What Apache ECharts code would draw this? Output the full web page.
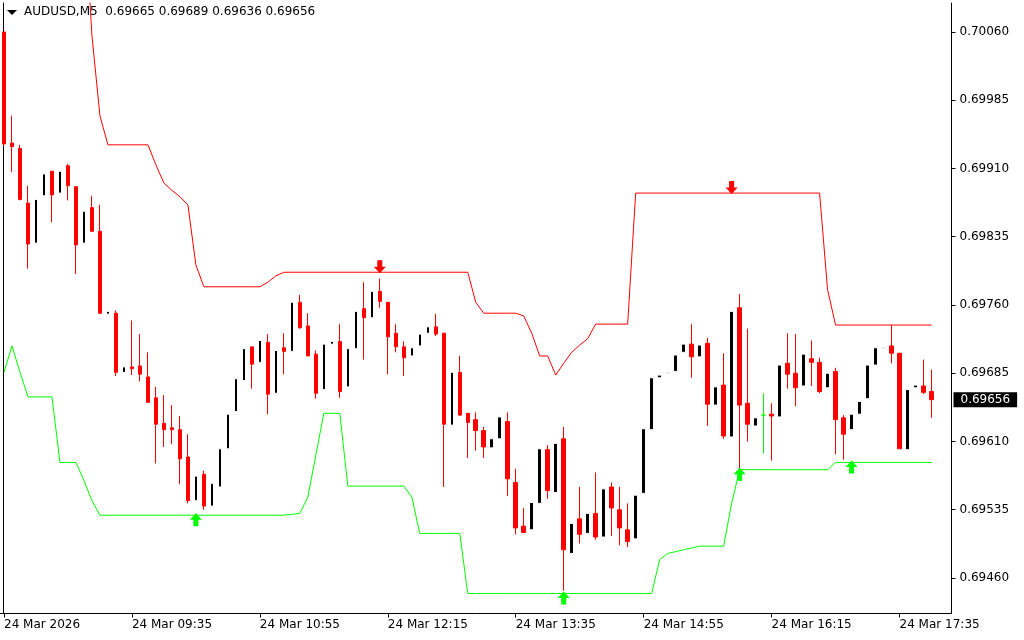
<!DOCTYPE html>
<html><head><meta charset="utf-8">
<script src="https://cdn.jsdelivr.net/npm/echarts@6/dist/echarts.min.js"></script>
<style>html,body{margin:0;padding:0;background:#fff}#c{width:1024px;height:640px}</style>
</head><body><div id="c"></div>
<script>
// ---- categories: 5-minute bars starting 24 Mar 2026 08:15 (119 slots, last 2 empty = chart shift)
const categories = [];
for (let i = 0; i < 119; i++) {
  const m = 8 * 60 + 15 + 5 * i;
  categories.push(String(Math.floor(m / 60)).padStart(2, '0') + ':' + String(m % 60).padStart(2, '0'));
}
const xTickIndex = [0, 16, 32, 48, 64, 80, 96, 112];
const xTickText = ['24 Mar 2026', '24 Mar 09:35', '24 Mar 10:55', '24 Mar 12:15', '24 Mar 13:35', '24 Mar 14:55', '24 Mar 16:15', '24 Mar 17:35'];
const yTickValues = [0.69460, 0.69535, 0.69610, 0.69685, 0.69760, 0.69835, 0.69910, 0.69985, 0.70060];

// ---- OHLC
const candleOpen = [
0.70060,0.69938,0.69932,0.69872,0.69828,0.69880,0.69907,0.69883,0.69913,0.69890,
0.69828,0.69867,0.69841,0.69750,0.69751,0.69686,0.69692,0.69693,0.69681,0.69658,
0.69630,0.69625,0.69623,0.69593,0.69545,0.69574,0.69539,0.69560,0.69602,0.69643,
0.69677,0.69714,0.69697,0.69719,0.69663,0.69713,0.69709,0.69763,0.69737,0.69706,
0.69667,0.69717,0.69720,0.69670,0.69712,0.69756,0.69746,0.69775,0.69763,0.69729,
0.69714,0.69704,0.69715,0.69729,0.69736,0.69729,0.69628,0.69686,0.69641,0.69634,
0.69622,0.69603,0.69613,0.69632,0.69565,0.69517,0.69513,0.69542,0.69601,0.69554,
0.69613,0.69487,0.69525,0.69509,0.69531,0.69505,0.69560,0.69535,0.69513,0.69503,
0.69553,0.69623,0.69680,0.69685,0.69687,0.69708,0.69717,0.69703,0.69718,0.69650,
0.69672,0.69615,0.69757,0.69652,0.69627,0.69639,0.69640,0.69637,0.69696,0.69685,
0.69671,0.69701,0.69697,0.69669,0.69687,0.69636,0.69623,0.69640,0.69657,0.69694,
0.69712,0.69715,0.69707,0.69601,0.69669,0.69671,0.69665];
const candleHigh = [
0.70060,0.69968,0.69936,0.69891,0.69876,0.69904,0.69907,0.69907,0.69915,0.69890,
0.69863,0.69880,0.69870,0.69753,0.69754,0.69692,0.69743,0.69728,0.69708,0.69670,
0.69661,0.69650,0.69638,0.69618,0.69572,0.69578,0.69564,0.69602,0.69640,0.69679,
0.69712,0.69714,0.69721,0.69728,0.69710,0.69729,0.69763,0.69771,0.69751,0.69710,
0.69717,0.69720,0.69739,0.69712,0.69753,0.69785,0.69775,0.69789,0.69763,0.69739,
0.69720,0.69713,0.69728,0.69736,0.69750,0.69729,0.69686,0.69704,0.69641,0.69642,
0.69626,0.69613,0.69637,0.69642,0.69580,0.69537,0.69543,0.69602,0.69606,0.69608,
0.69626,0.69520,0.69560,0.69531,0.69576,0.69558,0.69565,0.69560,0.69542,0.69551,
0.69624,0.69680,0.69683,0.69686,0.69705,0.69717,0.69739,0.69716,0.69724,0.69670,
0.69707,0.69753,0.69772,0.69734,0.69636,0.69663,0.69652,0.69694,0.69729,0.69728,
0.69706,0.69721,0.69702,0.69685,0.69691,0.69639,0.69640,0.69654,0.69694,0.69713,
0.69713,0.69738,0.69707,0.69667,0.69672,0.69700,0.69689];
const candleLow = [
0.69935,0.69906,0.69875,0.69800,0.69828,0.69880,0.69851,0.69883,0.69875,0.69794,
0.69828,0.69841,0.69750,0.69750,0.69682,0.69686,0.69683,0.69676,0.69653,0.69586,
0.69604,0.69607,0.69563,0.69542,0.69545,0.69535,0.69539,0.69560,0.69602,0.69643,
0.69677,0.69668,0.69697,0.69640,0.69663,0.69684,0.69709,0.69734,0.69704,0.69657,
0.69667,0.69717,0.69658,0.69670,0.69712,0.69700,0.69746,0.69757,0.69684,0.69708,
0.69682,0.69704,0.69715,0.69729,0.69726,0.69560,0.69628,0.69638,0.69592,0.69600,
0.69592,0.69603,0.69613,0.69550,0.69508,0.69510,0.69513,0.69542,0.69547,0.69554,
0.69446,0.69487,0.69498,0.69509,0.69502,0.69505,0.69506,0.69496,0.69494,0.69503,
0.69553,0.69623,0.69680,0.69685,0.69687,0.69708,0.69680,0.69703,0.69627,0.69650,
0.69613,0.69615,0.69579,0.69610,0.69627,0.69597,0.69589,0.69637,0.69668,0.69649,
0.69671,0.69671,0.69663,0.69669,0.69596,0.69590,0.69623,0.69640,0.69657,0.69694,
0.69712,0.69696,0.69602,0.69601,0.69669,0.69662,0.69636];
const candleClose = [
0.69937,0.69934,0.69876,0.69827,0.69876,0.69904,0.69881,0.69907,0.69891,0.69826,
0.69863,0.69841,0.69751,0.69753,0.69686,0.69692,0.69690,0.69684,0.69653,0.69629,
0.69623,0.69623,0.69591,0.69545,0.69572,0.69539,0.69564,0.69602,0.69640,0.69679,
0.69712,0.69695,0.69721,0.69662,0.69710,0.69709,0.69763,0.69735,0.69704,0.69663,
0.69717,0.69720,0.69665,0.69712,0.69753,0.69746,0.69775,0.69764,0.69725,0.69714,
0.69702,0.69713,0.69728,0.69736,0.69728,0.69629,0.69686,0.69639,0.69631,0.69622,
0.69604,0.69613,0.69637,0.69569,0.69515,0.69510,0.69543,0.69602,0.69556,0.69608,
0.69491,0.69520,0.69508,0.69531,0.69505,0.69558,0.69537,0.69515,0.69500,0.69551,
0.69624,0.69680,0.69683,0.69686,0.69705,0.69717,0.69703,0.69716,0.69651,0.69670,
0.69616,0.69753,0.69650,0.69629,0.69636,0.69639,0.69638,0.69694,0.69684,0.69669,
0.69706,0.69697,0.69665,0.69685,0.69634,0.69618,0.69640,0.69654,0.69694,0.69713,
0.69713,0.69707,0.69602,0.69667,0.69672,0.69664,0.69656];

// ---- indicator lines
const upperLine = [
0.70205,0.70205,0.70205,0.70205,0.70205,0.70205,0.70205,0.70205,0.70205,0.70205,
0.70205,0.70056,0.69968,0.69936,0.69936,0.69936,0.69936,0.69936,0.69936,0.69914,
0.69894,0.69886,0.69879,0.69870,0.69804,0.69780,0.69780,0.69780,0.69780,0.69780,
0.69780,0.69780,0.69780,0.69785,0.69792,0.69796,0.69796,0.69796,0.69796,0.69796,
0.69796,0.69796,0.69796,0.69796,0.69796,0.69796,0.69796,0.69796,0.69796,0.69796,
0.69796,0.69796,0.69796,0.69796,0.69796,0.69796,0.69796,0.69796,0.69796,0.69763,
0.69751,0.69751,0.69751,0.69751,0.69751,0.69748,0.69729,0.69704,0.69704,0.69683,
0.69696,0.69708,0.69716,0.69723,0.69739,0.69739,0.69739,0.69739,0.69739,0.69883,
0.69883,0.69883,0.69883,0.69883,0.69883,0.69883,0.69883,0.69883,0.69883,0.69883,
0.69883,0.69883,0.69883,0.69883,0.69883,0.69883,0.69883,0.69883,0.69883,0.69883,
0.69883,0.69883,0.69883,0.69777,0.69738,0.69738,0.69738,0.69738,0.69738,0.69738,
0.69738,0.69738,0.69738,0.69738,0.69738,0.69738,0.69738];
const lowerLine = [
0.69686,0.69715,0.69686,0.69659,0.69659,0.69659,0.69659,0.69587,0.69587,0.69587,
0.69567,0.69545,0.69529,0.69529,0.69529,0.69529,0.69529,0.69529,0.69529,0.69529,
0.69529,0.69529,0.69529,0.69529,0.69529,0.69529,0.69529,0.69529,0.69529,0.69529,
0.69529,0.69529,0.69529,0.69529,0.69529,0.69529,0.69530,0.69531,0.69549,0.69595,
0.69641,0.69641,0.69641,0.69561,0.69561,0.69561,0.69561,0.69561,0.69561,0.69561,
0.69561,0.69549,0.69509,0.69509,0.69509,0.69509,0.69509,0.69509,0.69443,0.69443,
0.69443,0.69443,0.69443,0.69443,0.69443,0.69443,0.69443,0.69443,0.69443,0.69443,
0.69443,0.69443,0.69443,0.69443,0.69443,0.69443,0.69443,0.69443,0.69443,0.69443,
0.69443,0.69443,0.69480,0.69487,0.69489,0.69491,0.69493,0.69495,0.69495,0.69495,
0.69495,0.69542,0.69579,0.69579,0.69579,0.69579,0.69579,0.69579,0.69579,0.69579,
0.69579,0.69579,0.69579,0.69579,0.69587,0.69587,0.69587,0.69587,0.69587,0.69587,
0.69587,0.69587,0.69587,0.69587,0.69587,0.69587,0.69587];

// ---- signal arrows
const upArrowIndex = [24, 70, 92, 106];
const upArrowPrice = [0.69529, 0.69443, 0.69579, 0.69587];
const downArrowIndex = [47, 91];
const downArrowPrice = [0.69796, 0.69883];

const FONT = 'DejaVu Sans';
const Y_MIN = 0.69420989, Y_MAX = 0.70091868;
const last = candleOpen.length - 1;
const lastSlot = categories.length - 1;
const header = 'AUDUSD,M5  ' + [candleOpen[last], candleHigh[last], candleLow[last], candleClose[last]].map(v => v.toFixed(5)).join(' ');
const tickMap = {};
xTickIndex.forEach((k, i) => tickMap[k] = xTickText[i]);
const isTick = (idx) => tickMap[idx] !== undefined;

const candleData = candleOpen.map((o, i) => [o, candleClose[i], candleLow[i], candleHigh[i]]);
const upArrowPath = 'path://M6,0 L12,6 L8.5,6 L8.5,12 L3.5,12 L3.5,6 L0,6 Z';
const downArrowPath = 'path://M3.5,0 L8.5,0 L8.5,6 L12,6 L6,12 L0,6 L3.5,6 Z';

const chart = echarts.init(document.getElementById('c'), null, {renderer: 'canvas'});
chart.setOption({
  animation: false,
  backgroundColor: '#ffffff',
  title: {text: header, left: 24, top: 6, padding: 0,
    textStyle: {fontFamily: FONT, fontSize: 12, fontWeight: 'normal', color: '#000'}},
  graphic: [{type: 'polygon', silent: true, shape: {points: [[7, 10], [17, 10], [12, 15]]}, style: {fill: '#000'}}],
  grid: {left: -0.5, right: 72.5, top: 3, bottom: 26.5, containLabel: false},
  xAxis: {
    type: 'category', data: categories, boundaryGap: true,
    axisLine: {show: true, lineStyle: {color: '#000', width: 1}},
    axisTick: {show: true, alignWithLabel: true, interval: (i) => isTick(i), length: 4, lineStyle: {color: '#000'}},
    axisLabel: {show: true, interval: (i) => isTick(i), formatter: (v, i) => tickMap[i] || '', align: 'left',
      margin: 5, color: '#000', fontFamily: FONT, fontSize: 12},
    splitLine: {show: false}
  },
  yAxis: [{
    type: 'value', position: 'right', min: Y_MIN, max: Y_MAX,
    axisLine: {show: true, lineStyle: {color: '#000', width: 1}},
    axisTick: {show: true, length: 4, customValues: yTickValues, lineStyle: {color: '#000'}},
    axisLabel: {show: true, customValues: yTickValues, formatter: (v) => v.toFixed(5), margin: 8,
      color: '#000', fontFamily: FONT, fontSize: 12},
    splitLine: {show: false}
  }, {
    type: 'value', position: 'left', offset: -3, min: Y_MIN, max: Y_MAX,
    axisLine: {show: true, lineStyle: {color: '#000', width: 1}},
    axisTick: {show: false}, axisLabel: {show: false}, splitLine: {show: false}
  }],
  series: [{
    type: 'candlestick', data: candleData, barWidth: 4, z: 2,
    itemStyle: {color: '#000000', color0: '#ff0000', borderColor: '#ffffff', borderColor0: '#ff0000',
      borderColorDoji: '#00ff00', borderWidth: 1}
  }, {
    type: 'line', data: upperLine, symbol: 'none', z: 3, lineStyle: {color: '#ff0000', width: 1}
  }, {
    type: 'line', data: lowerLine, symbol: 'none', z: 3, lineStyle: {color: '#00ff00', width: 1}
  }, {
    type: 'scatter', z: 5, data: upArrowIndex.map((k, i) => [k, upArrowPrice[i]]),
    symbol: upArrowPath, symbolSize: [12, 13], symbolOffset: [0, 4.5], itemStyle: {color: '#00ff00', opacity: 1}
  }, {
    type: 'scatter', z: 5, data: downArrowIndex.map((k, i) => [k, downArrowPrice[i]]),
    symbol: downArrowPath, symbolSize: [12, 13], symbolOffset: [0, -5.5], itemStyle: {color: '#ff0000', opacity: 1}
  }, {
    // current price tag on the right axis
    type: 'scatter', z: 10, silent: true, clip: false,
    data: [[lastSlot, candleClose[last]]],
    symbol: 'rect', symbolSize: 0, itemStyle: {color: '#000', opacity: 1},
    label: {show: true, position: 'right', distance: 6, formatter: () => candleClose[last].toFixed(5),
      color: '#fff', backgroundColor: '#000', padding: [2, 7, 1, 7], fontFamily: FONT, fontSize: 12, opacity: 1}
  }]
});
</script></body></html>
